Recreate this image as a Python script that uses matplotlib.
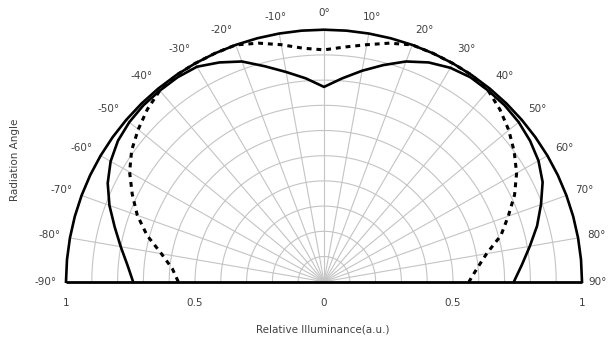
import numpy as np
import matplotlib
matplotlib.use("Agg")
import matplotlib.pyplot as plt

# ---- data -------------------------------------------------------------
angles_deg = list(range(-90, 91, 5))

outer_r = [1.0, 1.0, 1.0, 1.0, 1.0, 1.0, 1.0, 1.0, 1.0, 1.0,
           1.0, 1.0, 1.0, 1.0, 1.0, 1.0, 1.0, 1.0, 1.0, 1.0,
           1.0, 1.0, 1.0, 1.0, 1.0, 1.0, 1.0, 1.0, 1.0, 1.0,
           1.0, 1.0, 1.0, 1.0, 1.0, 1.0, 1.0]

inner_r = [0.74, 0.765, 0.80, 0.84, 0.885, 0.925, 0.955, 0.975, 0.985, 0.99,
           0.99, 0.99, 0.985, 0.96, 0.93, 0.885, 0.845, 0.81, 0.773, 0.81,
           0.85, 0.89, 0.93, 0.96, 0.98, 0.99, 0.99, 0.99, 0.985, 0.975,
           0.96, 0.935, 0.895, 0.855, 0.81, 0.77, 0.736]

dashed_r = [0.565, 0.59, 0.64, 0.71, 0.77, 0.82, 0.87, 0.91, 0.94, 0.968,
            0.99, 1.0, 1.0, 1.0, 1.0, 0.98, 0.955, 0.93, 0.92, 0.935,
            0.955, 0.98, 1.0, 1.0, 1.0, 1.0, 0.99, 0.965, 0.935, 0.90,
            0.862, 0.815, 0.76, 0.71, 0.64, 0.595, 0.562]

angle_ticks = list(range(-90, 91, 10))
angle_labels = [f"{a}°" for a in angle_ticks]
radial_ticks = [-1, -0.5, 0, 0.5, 1]
radial_labels = ["1", "0.5", "0", "0.5", "1"]
grid_radii = [0.1, 0.2, 0.3, 0.4, 0.5, 0.6, 0.7, 0.8, 0.9, 1.0]

# ---- figure -----------------------------------------------------------
W, H = 608, 347
FS = 7.5
fig = plt.figure(figsize=(W / 100, H / 100), dpi=100)
ax = fig.add_axes([66 / W, 65.3 / H, 516 / W, 252 / H])
ax.set_xlim(-1, 1)
ax.set_ylim(0, 1)
for s in ax.spines.values():
    s.set_visible(False)


def to_xy(theta_deg, r):
    t = np.deg2rad(np.asarray(theta_deg, dtype=float))
    r = np.asarray(r, dtype=float)
    return r * np.sin(t), r * np.cos(t)


grid_col = "#c4c4c4"
tt = np.linspace(-90, 90, 361)
for gr in grid_radii:
    gx, gy = to_xy(tt, np.full_like(tt, gr))
    ax.plot(gx, gy, color=grid_col, lw=0.8, zorder=1, clip_on=False)
for a in angle_ticks:
    if abs(a) == 90:
        continue
    gx, gy = to_xy([a, a], [0, 1])
    ax.plot(gx, gy, color=grid_col, lw=0.8, zorder=1, clip_on=False)

# baseline
ax.plot([-1, 1], [0, 0], color="black", lw=2.0, zorder=3, clip_on=False,
        solid_capstyle="butt")

# curves
x, y = to_xy(angles_deg, outer_r)
ax.plot(x, y, color="black", lw=1.9, zorder=4, clip_on=False)
x, y = to_xy(angles_deg, inner_r)
ax.plot(x, y, color="black", lw=1.9, zorder=4, clip_on=False)
x, y = to_xy(angles_deg, dashed_r)
ax.plot(x, y, color="black", lw=2.2, ls=(0, (1.6, 1.6)), zorder=4,
        clip_on=False)

# angle labels
for a, lab in zip(angle_ticks, angle_labels):
    t = np.deg2rad(a)
    if a == 90:
        ax.annotate(lab, xy=(1, 0), xycoords="data",
                    xytext=(0.998, 0), textcoords=("figure fraction", "data"),
                    ha="right", va="center", fontsize=FS, color="#404040",
                    annotation_clip=False)
        continue
    ly = 1.065 * np.cos(t)
    if abs(a) <= 10:
        lx, ha = 1.075 * np.sin(t), "center"
    elif a > 0:
        lx, ha = 1.035 * np.sin(t), "left"
    else:
        lx, ha = 1.035 * np.sin(t), "right"
    ax.text(lx, ly, lab, ha=ha, va="center", fontsize=FS,
            color="#404040", clip_on=False)

# radial tick labels
ax.set_yticks([])
ax.set_xticks(radial_ticks)
ax.set_xticklabels(radial_labels, fontsize=FS, color="#404040")
ax.tick_params(axis="x", length=0, pad=12)

fig.text(15 / W, 1 - 160 / H, "Radiation Angle", rotation=90, ha="center",
         va="center", fontsize=FS, color="#404040")
fig.text(323 / W, 1 - 330 / H, "Relative Illuminance(a.u.)", ha="center",
         va="center", fontsize=FS, color="#404040")

fig.savefig("out.png", dpi=100)
